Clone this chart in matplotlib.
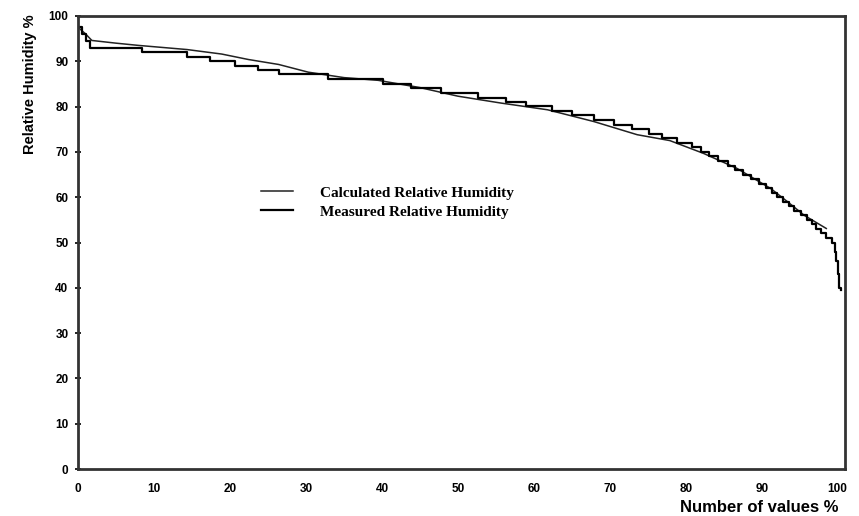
import numpy as np
import matplotlib
matplotlib.use('Agg')
import matplotlib.pyplot as plt

# measured relative humidity (step curve), x = number of values %, y = RH %
measured_x = [0, 0.5, 1.0, 1.5, 8.4, 14.3, 17.3, 20.6, 23.7, 26.4, 32.9, 40.1, 43.8, 47.8,
              52.6, 56.3, 58.9, 62.4, 65.0, 67.9, 70.5, 72.9, 75.1, 76.9, 78.8, 80.8, 82.0,
              83.0, 84.3, 85.5, 86.5, 87.6, 88.6, 89.6, 90.5, 91.3, 92.0, 92.8, 93.6, 94.3,
              95.2, 96.0, 96.6, 97.2, 97.8, 98.5, 99.2, 99.6, 99.8, 100.0, 100.2, 100.4]
measured_y = [97.5, 96.0, 94.5, 93.0, 92.0, 91.0, 90.0, 89.0, 88.0, 87.1, 86.0, 85.0, 84.1, 83.0,
              82.0, 81.0, 80.2, 79.0, 78.2, 77.0, 76.0, 75.0, 74.0, 73.0, 72.0, 71.0, 70.0,
              69.0, 68.0, 67.0, 66.0, 65.0, 64.0, 63.0, 62.0, 61.0, 60.0, 59.0, 58.0, 57.0,
              56.0, 55.0, 54.0, 53.0, 52.0, 51.0, 50.0, 48.0, 46.0, 43.0, 40.0, 39.5]

# calculated relative humidity (smooth curve)
calc_x = [0, 1.0, 1.8, 5.0, 8.0, 14.3, 18.9, 22.4, 26.4, 30.3, 35.0, 39.5, 45.0, 50.0,
          55.6, 61.8, 67.9, 73.6, 77.9, 82.3, 86.7, 91.2, 93.4, 95.6, 98.5]
calc_y = [97.5, 96.0, 94.6, 94.0, 93.5, 92.6, 91.6, 90.4, 89.3, 87.6, 86.4, 85.8, 84.2, 82.3,
          80.8, 79.3, 76.7, 73.8, 72.5, 69.7, 66.4, 61.9, 59.0, 56.0, 53.1]

x_ticks = np.arange(0, 101, 10)
y_ticks = np.arange(0, 101, 10)

fig = plt.figure(figsize=(8.59, 5.16), dpi=100)
ax = fig.add_axes([0.091, 0.091, 0.893, 0.878])

ax.plot(calc_x, calc_y, color='#222222', lw=1.1, label='Calculated Relative Humidity')
ax.plot(measured_x, measured_y, color='black', lw=1.6, drawstyle='steps-post',
        label='Measured Relative Humidity')

ax.set_xlim(0, 101)
ax.set_ylim(0, 100)
ax.set_xticks(x_ticks)
ax.set_yticks(y_ticks)

for s in ax.spines.values():
    s.set_linewidth(2.0)
    s.set_color('#333333')

ax.tick_params(axis='x', length=0, pad=10)
ax.tick_params(axis='y', length=4, direction='inout', width=1.2, pad=5)
for lbl in ax.get_xticklabels() + ax.get_yticklabels():
    lbl.set_fontweight('bold')
    lbl.set_fontsize(8.5)
    lbl.set_fontfamily('Liberation Sans')

leg = ax.legend(loc='upper left', bbox_to_anchor=(0.22, 0.655), frameon=False,
                handlelength=2.1, handletextpad=1.8, labelspacing=0.35,
                prop={'family': 'Liberation Serif', 'weight': 'bold', 'size': 11})

fig.text(30 / 859, 1 - 14 / 516, 'Relative Humidity %', rotation=90, ha='center', va='top',
         fontsize=10.5, fontweight='bold', family='Liberation Sans')
fig.text(0.976, 0.017, 'Number of values %', ha='right', va='center',
         fontsize=12, fontweight='bold', family='Liberation Sans')

fig.savefig('out.png', dpi=100)
